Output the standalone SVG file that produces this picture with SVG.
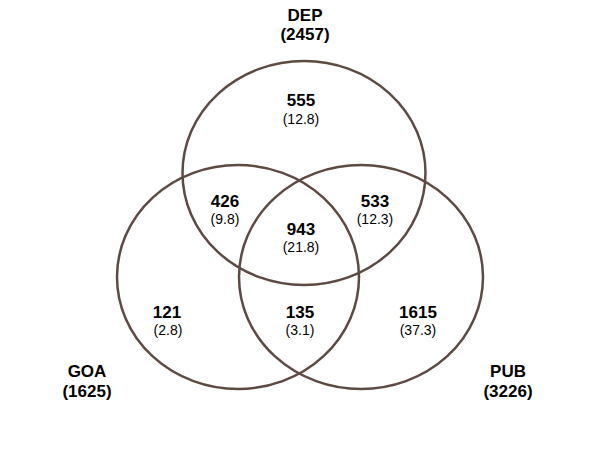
<svg xmlns="http://www.w3.org/2000/svg" width="600" height="450" viewBox="0 0 600 450">
<style>
.c{fill:none;stroke:#5e4a42;stroke-width:2.5}
.b{font-family:"Liberation Sans",Arial,sans-serif;font-weight:bold;font-size:17px;fill:#000;text-anchor:middle}
.r{font-family:"Liberation Sans",Arial,sans-serif;font-size:14px;fill:#000;text-anchor:middle}
</style>
<rect width="600" height="450" fill="#fff"/>
<g id="DEP">
<ellipse class="c" cx="304" cy="173" rx="121.5" ry="112"/>
<text class="b" x="305" y="21">DEP</text>
<text class="b" x="305" y="40">(2457)</text>
</g>
<g id="GOA">
<ellipse class="c" cx="238" cy="277" rx="121" ry="112"/>
<text class="b" x="87" y="377">GOA</text>
<text class="b" x="87" y="397">(1625)</text>
</g>
<g id="PUB">
<ellipse class="c" cx="361" cy="277" rx="122" ry="112"/>
<text class="b" x="508" y="377">PUB</text>
<text class="b" x="508" y="397">(3226)</text>
</g>
<g id="regions">
<text class="b" x="301" y="106">555</text>
<text class="r" x="301" y="124">(12.8)</text>
<text class="b" x="225" y="207">426</text>
<text class="r" x="225" y="224">(9.8)</text>
<text class="b" x="375" y="207">533</text>
<text class="r" x="375" y="224">(12.3)</text>
<text class="b" x="301" y="235">943</text>
<text class="r" x="301" y="252">(21.8)</text>
<text class="b" x="167" y="318">121</text>
<text class="r" x="168" y="335">(2.8)</text>
<text class="b" x="300" y="318">135</text>
<text class="r" x="300" y="335">(3.1)</text>
<text class="b" x="418" y="318">1615</text>
<text class="r" x="418" y="335">(37.3)</text>
</g>
</svg>
